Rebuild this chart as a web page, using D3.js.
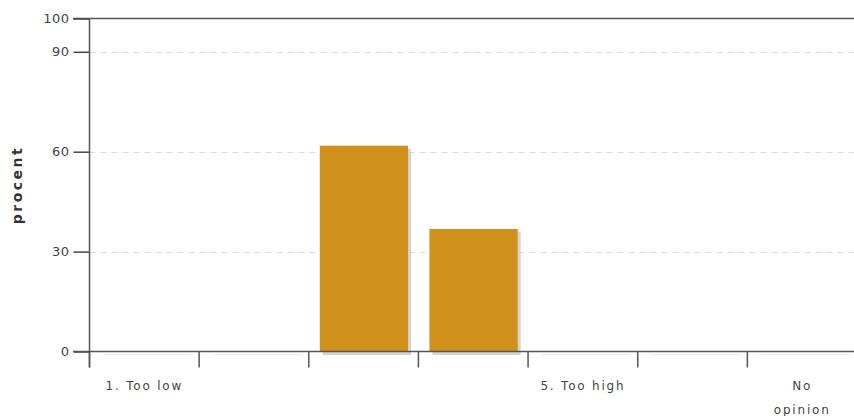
<!DOCTYPE html>
<html><head><meta charset="utf-8">
<script src="https://cdn.jsdelivr.net/npm/d3@7"></script>
<style>
body{margin:0;background:#fff;}
svg{display:block;}
text{font-family:"DejaVu Sans",sans-serif;}
</style></head>
<body><svg id="c" width="854" height="416"></svg>
<script>
const categories = ["1. Too low", "2", "3", "4", "5. Too high", "6", "No opinion"];
const categoryLabels = [["1. Too low"], [""], [""], [""], ["5. Too high"], [""], ["No", "opinion"]];
const values = [0, 0, 61.8, 36.8, 0, 0, 0];
const yTicks = [0, 30, 60, 90, 100];
const gridTicks = [30, 60, 90];
const yTitle = "procent";

const svg = d3.select("#c");
const pLeft = 89.5, pRight = 857, pTop = 18.5, pBottom = 351.5;
const x = d3.scaleBand().domain(categories).range([pLeft, pRight]).padding(0);
const y = d3.scaleLinear().domain([0, 100]).range([pBottom, pTop]);
const bw = x.bandwidth();

// gridlines
svg.append("g").selectAll("line").data(gridTicks).join("line")
  .attr("x1", pLeft).attr("x2", 854)
  .attr("y1", d => Math.round(y(d)) + 0.5).attr("y2", d => Math.round(y(d)) + 0.5)
  .attr("stroke", "#d5dde2").attr("stroke-dasharray", "6,5");

// bars with shadows
const bars = svg.append("g");
const bx = d => x(categories[d.i]) + 11;
const bWidth = bw * 0.805;
const data = values.map((v, i) => ({v, i}));
bars.selectAll("rect.sh").data(data).join("rect").attr("class", "sh")
  .attr("x", d => bx(d) + 3)
  .attr("y", d => y(d.v) + 3)
  .attr("width", bWidth)
  .attr("height", d => pBottom - y(d.v) + 0.5)
  .attr("fill", "#d4d4d4");
bars.selectAll("rect.b").data(data.filter(d => d.v > 0)).join("rect").attr("class", "b")
  .attr("x", d => bx(d))
  .attr("y", d => y(d.v))
  .attr("width", bWidth)
  .attr("height", d => pBottom - y(d.v))
  .attr("fill", "#cf9119");

// top line
svg.append("line").attr("x1", 73).attr("x2", 854).attr("y1", pTop).attr("y2", pTop)
  .attr("stroke", "#555").attr("stroke-width", 1.5);

// y axis
const yAxis = d3.axisLeft(y).tickValues(yTicks).tickSize(16).tickPadding(4).tickFormat(d3.format("d"));
const gy = svg.append("g").attr("transform", `translate(${pLeft},0)`).call(yAxis);
gy.select(".domain").remove();
gy.selectAll(".tick line").attr("stroke", "#444").attr("stroke-width", 1.5);
gy.selectAll(".tick text").attr("fill", "#444").style("font-size", "13px")
  .style("letter-spacing", "0.5px").style("font-family", "DejaVu Sans, sans-serif");
svg.append("line").attr("x1", pLeft).attr("x2", pLeft).attr("y1", pTop).attr("y2", pBottom + 16)
  .attr("stroke", "#555").attr("stroke-width", 1.5);

// baseline
svg.append("line").attr("x1", 73).attr("x2", 854).attr("y1", pBottom).attr("y2", pBottom)
  .attr("stroke", "#555").attr("stroke-width", 1.5);

// x ticks at band boundaries
const bounds = categories.map(c => x(c));
svg.append("g").selectAll("line").data(bounds).join("line")
  .attr("x1", d => d).attr("x2", d => d)
  .attr("y1", pBottom).attr("y2", pBottom + 16)
  .attr("stroke", "#555").attr("stroke-width", 1.5);

// x labels
const xl = svg.append("g").selectAll("text").data(categories).join("text")
  .attr("x", c => x(c) + bw / 2)
  .attr("y", 390)
  .attr("text-anchor", "middle")
  .attr("fill", "#444")
  .style("font-size", "12px")
  .style("letter-spacing", "1.8px");
xl.each(function(c, i) {
  const t = d3.select(this);
  categoryLabels[i].forEach((line, k) => {
    t.append("tspan").attr("x", x(c) + bw / 2).attr("dy", k === 0 ? 0 : 24).text(line);
  });
});

// y title
svg.append("text").attr("transform", "translate(22,185) rotate(-90)")
  .attr("text-anchor", "middle").attr("fill", "#333")
  .style("font-size", "14px").style("font-weight", "bold").style("letter-spacing", "2.5px")
  .text(yTitle);
</script></body></html>
